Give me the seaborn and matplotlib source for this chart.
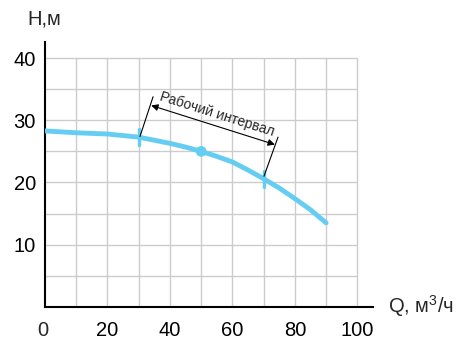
import numpy as np
import pandas as pd
import seaborn as sns
import matplotlib.pyplot as plt

# pump curve
flow = [0, 10, 20, 30, 40, 45, 50, 55, 60, 65, 70, 75, 80, 85, 90]
head = [28.3, 28.0, 27.8, 27.3, 26.3, 25.7, 25.0, 24.2, 23.3, 22.0, 20.6, 19.1, 17.4, 15.6, 13.5]
duty_flow = [50]
duty_head = [25.0]
range_flow = [30, 70]
range_head = [27.3, 20.6]
x_ticks = [20, 40, 60, 80, 100]
y_ticks = [10, 20, 30, 40]

sns.set_style("white")
plt.rcParams['font.family'] = ['Liberation Sans', 'DejaVu Sans']
plt.rcParams['mathtext.fontset'] = 'custom'
plt.rcParams['mathtext.rm'] = 'Liberation Sans'
plt.rcParams['mathtext.it'] = 'Liberation Sans'

curve_color = '#66cdf2'
df = pd.DataFrame({'Q': flow, 'H': head})

fig = plt.figure(figsize=(4.59, 3.45), dpi=100)
ax = fig.add_axes([0.098, 0.111, 0.7146, 0.767])

# grid only inside 0..100 x 0..40
for x in range(10, 101, 10):
    ax.plot([x, x], [0, 40], color='#cccccc', lw=1, zorder=0)
for y in range(5, 41, 5):
    ax.plot([0, 100], [y, y], color='#cccccc', lw=1, zorder=0)

sns.lineplot(data=df, x='Q', y='H', color=curve_color, lw=3.5, ax=ax, zorder=3)
sns.scatterplot(x=duty_flow, y=duty_head, color=curve_color, s=60, edgecolor='none', ax=ax, zorder=4)

# working range marks on the curve
for q, h in zip(range_flow, range_head):
    ax.plot([q, q], [h - 1.3, h + 1.3], color=curve_color, lw=2.5, zorder=4)

# dimension lines for "Рабочий интервал"
ax.plot([30.4, 34.6], [27.4, 33.8], color='black', lw=0.8, zorder=5)
ax.plot([70.1, 74.6], [21.0, 27.3], color='black', lw=0.8, zorder=5)
ax.annotate('', xy=(34.0, 32.4), xytext=(73.6, 26.1),
            arrowprops=dict(arrowstyle='<|-|>', color='black', lw=0.8,
                            mutation_scale=10, shrinkA=0, shrinkB=0), zorder=5)
ax.text(55.2, 31.0, 'Рабочий интервал', rotation=-17.5, fontsize=10,
        ha='center', va='center', rotation_mode='anchor')

ax.set_xlim(0, 105)
ax.set_ylim(0, 42.6)
ax.set_xticks(x_ticks)
ax.set_yticks(y_ticks)
ax.tick_params(axis='both', direction='inout', length=9, width=1.2, labelsize=14.5, colors='black')
ax.tick_params(axis='x', pad=6)
ax.tick_params(axis='y', pad=2)
ax.set_xlabel('')
ax.set_ylabel('')
sns.despine(ax=ax)
for s in ['left', 'bottom']:
    ax.spines[s].set_linewidth(1.5)
    ax.spines[s].set_color('black')

fig.text(43 / 459, 1 - 330 / 345, '0', fontsize=14.5, ha='center', va='center')
fig.text(27 / 459, 1 - 19 / 345, 'Н,м', fontsize=14.5, ha='left', va='center')
fig.text(388 / 459, 1 - 306 / 345, 'Q, м$^3$/ч', fontsize=14.5, ha='left', va='center')

fig.savefig('out.png', dpi=100)
